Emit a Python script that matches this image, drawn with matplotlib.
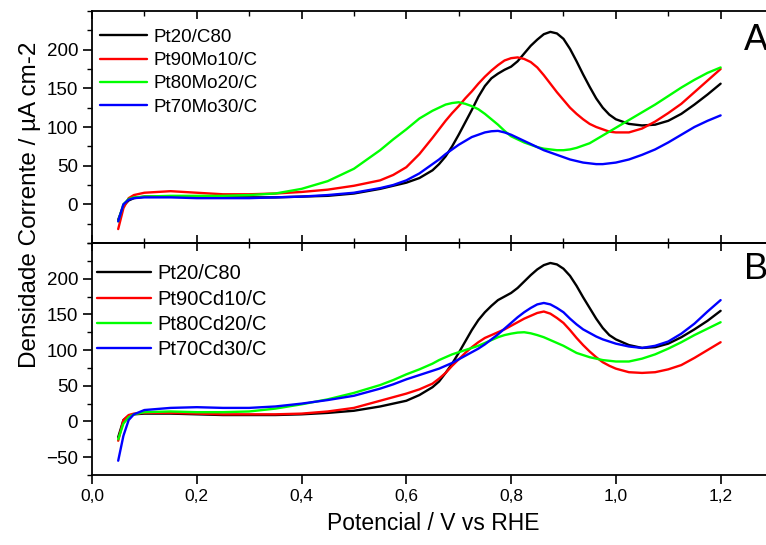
import matplotlib
matplotlib.use("Agg")
import matplotlib.pyplot as plt
from matplotlib.ticker import MultipleLocator, FuncFormatter, FixedLocator

plt.rcParams['font.family'] = ['Liberation Sans', 'DejaVu Sans']

# Potential (V vs RHE)
potential = [0.05, 0.06, 0.07, 0.08, 0.10, 0.15, 0.20, 0.25, 0.30, 0.35, 0.40, 0.45,
             0.50, 0.55, 0.575, 0.60, 0.625, 0.65, 0.6625, 0.675, 0.6875, 0.70, 0.7125,
             0.725, 0.7375, 0.75, 0.7625, 0.775, 0.7875, 0.80, 0.8125, 0.825, 0.8375,
             0.85, 0.8625, 0.875, 0.8875, 0.90, 0.9125, 0.925, 0.9375, 0.95, 0.9625,
             0.975, 0.9875, 1.00, 1.025, 1.05, 1.075, 1.10, 1.125, 1.15, 1.175, 1.20]

# Panel A (Mo)
labels_a = ["Pt20/C80", "Pt90Mo10/C", "Pt80Mo20/C", "Pt70Mo30/C"]
a_pt20 = [-20, -2, 5, 8, 10, 10, 10, 9, 9, 9, 10, 11, 14, 20, 24, 28, 34, 44, 52, 62,
          75, 90, 106, 122, 139, 153, 163, 169, 174, 178, 185, 195, 205, 213, 220, 223,
          221, 214, 201, 185, 168, 152, 137, 125, 116, 110, 104, 102, 103, 108, 117,
          129, 142, 156]
a_mo10 = [-32, -5, 8, 12, 15, 17, 15, 13, 13, 14, 16, 19, 24, 31, 38, 48, 65, 86, 97,
          108, 118, 127, 137, 146, 156, 165, 173, 180, 186, 189, 190, 188, 184, 177,
          167, 156, 145, 135, 125, 117, 110, 104, 100, 97, 94, 93, 93, 98, 107, 118,
          130, 145, 160, 175]
a_mo20 = [-22, 0, 7, 9, 10, 11, 11, 11, 12, 14, 20, 30, 46, 70, 84, 97, 111, 121, 125,
          129, 131, 132, 130, 127, 123, 117, 110, 103, 95, 88, 84, 80, 77, 74, 72, 71,
          70, 70, 71, 73, 76, 79, 84, 89, 94, 99, 109, 119, 129, 140, 151, 161, 170, 177]
a_mo30 = [-22, 0, 6, 8, 9, 9, 8, 8, 8, 9, 10, 12, 15, 21, 25, 31, 40, 52, 58, 65, 71,
          77, 82, 87, 90, 93, 94.5, 95, 93, 90, 86, 82, 78, 74, 70, 67, 64, 61, 58, 56,
          54, 53, 52, 52, 53, 54, 58, 64, 71, 80, 90, 100, 108, 115]

# Panel B (Cd)
labels_b = ["Pt20/C80", "Pt90Cd10/C", "Pt80Cd20/C", "Pt70Cd30/C"]
b_pt20 = [-22, 2, 8, 10, 11, 11, 10, 9, 9, 9, 10, 12, 15, 21, 25, 29, 37, 48, 56, 68,
          81, 96, 112, 128, 142, 153, 162, 170, 175, 180, 187, 196, 205, 213, 219, 222,
          220, 214, 204, 190, 174, 159, 144, 131, 121, 115, 107, 103, 104, 109, 118,
          129, 141, 155]
b_cd10 = [-27, 2, 9, 11, 12, 12, 11, 10, 10, 10, 11, 14, 19, 29, 34, 39, 45, 53, 60,
          68, 78, 87, 96, 104, 111, 117, 121, 125, 129, 134, 139, 144, 148, 152, 154,
          151, 145, 138, 128, 117, 107, 98, 90, 83, 78, 74, 69, 68, 69, 73, 79, 89,
          100, 111]
b_cd20 = [-25, -3, 6, 10, 13, 14, 13, 13, 14, 18, 24, 31, 40, 51, 58, 66, 73, 81, 86,
          90, 94, 97, 100, 103, 106, 110, 114, 118, 121, 123, 124.5, 125, 123.5, 121,
          118, 114, 110, 106, 101, 96, 93, 90, 88, 86, 85, 84, 84, 88, 94, 102, 111,
          121, 130, 139]
b_cd30 = [-55, -20, 2, 10, 16, 19, 20, 19, 19, 21, 25, 30, 36, 46, 52, 59, 65, 71, 74,
          78, 82, 87, 92, 97, 102, 108, 115, 122, 130, 138, 146, 153, 159, 164, 166,
          164, 159, 153, 144, 136, 129, 124, 119, 115, 112, 109, 105, 103, 106, 112,
          123, 137, 154, 170]

colors = ["#000000", "#ff0000", "#00ff00", "#0000ff"]

W, H = 766, 545
fig = plt.figure(figsize=(W / 100, H / 100), dpi=100)
left = 92 / W
width = (773 - 92) / W
ax1 = fig.add_axes([left, 1 - 243 / H, width, (243 - 11) / H])
ax2 = fig.add_axes([left, 1 - 475 / H, width, (475 - 243) / H])

comma = FuncFormatter(lambda v, p: f"{v:.1f}".replace(".", ","))

for ax, series, labels in ((ax1, [a_pt20, a_mo10, a_mo20, a_mo30], labels_a),
                           (ax2, [b_pt20, b_cd10, b_cd20, b_cd30], labels_b)):
    for ys, c, lab in zip(series, colors, labels):
        ax.plot(potential, ys, color=c, lw=1.7, label=lab,
                solid_joinstyle='round', solid_capstyle='round')
    ax.set_xlim(0, 1.3)
    ax.xaxis.set_major_locator(MultipleLocator(0.2))
    ax.xaxis.set_minor_locator(MultipleLocator(0.1))
    ax.yaxis.set_minor_locator(MultipleLocator(25))
    for s in ax.spines.values():
        s.set_linewidth(1.3)
    ax.tick_params(axis='y', which='major', direction='out', length=6.5, width=1.2,
                   labelsize=13.5, right=False)
    ax.tick_params(axis='y', which='minor', direction='out', length=3.5, width=1.0)

ax1.set_ylim(-50, 250)
ax1.yaxis.set_major_locator(FixedLocator([0, 50, 100, 150, 200]))
ax1.tick_params(axis='x', which='both', direction='in', top=True, bottom=True,
                labelbottom=False)
ax1.tick_params(axis='x', which='major', length=6, width=1.2)
ax1.tick_params(axis='x', which='minor', length=3.5, width=1.0)

ax2.set_ylim(-75, 250)
ax2.yaxis.set_major_locator(FixedLocator([-50, 0, 50, 100, 150, 200]))
ax2.xaxis.set_major_formatter(comma)
ax2.tick_params(axis='x', which='both', direction='out', top=False, bottom=True,
                labelsize=12.5)
ax2.tick_params(axis='x', which='major', length=6.5, width=1.2)
ax2.tick_params(axis='x', which='minor', length=0)
sec = ax2.secondary_xaxis('top')
sec.xaxis.set_major_locator(MultipleLocator(0.2))
sec.xaxis.set_minor_locator(MultipleLocator(0.1))
sec.tick_params(axis='x', which='both', direction='in', labeltop=False)
sec.tick_params(axis='x', which='major', length=6, width=1.2)
sec.tick_params(axis='x', which='minor', length=3.5, width=1.0)
sec.spines['top'].set_linewidth(1.3)

ax1.legend(loc='upper left', bbox_to_anchor=(0.012, 0.924), frameon=False,
           fontsize=13.5, handlelength=2.5, handletextpad=0.32, labelspacing=0.33,
           borderpad=0, borderaxespad=0)
ax2.legend(loc='upper left', bbox_to_anchor=(0.008, 0.909), frameon=False,
           fontsize=14.5, handlelength=2.64, handletextpad=0.35, labelspacing=0.32,
           borderpad=0, borderaxespad=0)

ax1.text(1.245, 212, "A", fontsize=26, va='center', ha='left')
ax2.text(1.245, 213, "B", fontsize=26, va='center', ha='left')

fig.text(30 / W, 1 - 205 / H, "Densidade Corrente / µA cm-2", rotation=90,
         fontsize=17.5, ha='center', va='center')
fig.text(433 / W, 1 - 523 / H, "Potencial / V vs RHE", fontsize=16.5,
         ha='center', va='center')

fig.savefig("out.png", dpi=100)
